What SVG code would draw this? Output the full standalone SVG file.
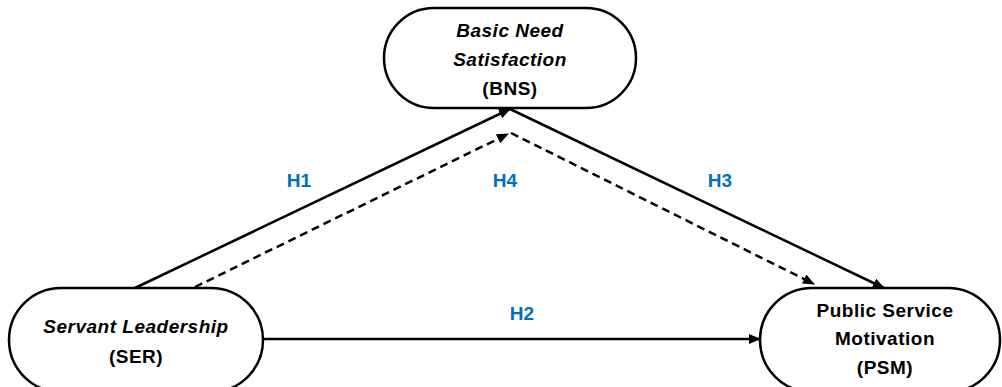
<svg xmlns="http://www.w3.org/2000/svg" width="1002" height="387" viewBox="0 0 1002 387">
<style>
.node{fill:#fff;stroke:#000;stroke-width:2.5}
.t{font-family:"Liberation Sans",Arial,sans-serif;font-weight:bold;font-size:19px;letter-spacing:0.5px;fill:#000;text-anchor:middle}
.i{font-style:italic}
.lbl{font-family:"Liberation Sans",Arial,sans-serif;font-weight:bold;font-size:19px;fill:#0070C0;text-anchor:middle}
.c{stroke:#000;stroke-width:2.5;fill:none}
.d{stroke-dasharray:8 5}
</style>
<defs>
<marker id="ah" markerUnits="userSpaceOnUse" markerWidth="12" markerHeight="10" refX="11" refY="5" orient="auto">
<path d="M0,0 L12,5 L0,10 Z" fill="#000"/>
</marker>
</defs>
<rect width="1002" height="387" fill="#fff"/>
<g id="connectors">
<line class="c" x1="135" y1="288" x2="510" y2="109" marker-end="url(#ah)"/>
<line class="c d" x1="195" y1="287" x2="508" y2="134" marker-end="url(#ah)"/>
<line class="c d" x1="511" y1="133" x2="814" y2="284" marker-end="url(#ah)"/>
<line class="c" x1="510" y1="109" x2="884" y2="288" marker-end="url(#ah)"/>
<line class="c" x1="263" y1="339" x2="760" y2="339" marker-end="url(#ah)"/>
</g>
<g id="labels">
<text class="lbl" x="299" y="187">H1</text>
<text class="lbl" x="505" y="187">H4</text>
<text class="lbl" x="720" y="187">H3</text>
<text class="lbl" x="522" y="320">H2</text>
</g>
<g id="BNS">
<rect class="node" x="384" y="8" width="252" height="100" rx="50"/>
<text class="t i" x="510" y="37">Basic Need</text>
<text class="t i" x="510" y="66">Satisfaction</text>
<text class="t" x="510" y="95">(BNS)</text>
</g>
<g id="SER">
<rect class="node" x="9" y="288" width="254" height="104" rx="52"/>
<text class="t i" x="136" y="333">Servant Leadership</text>
<text class="t" x="136" y="363">(SER)</text>
</g>
<g id="PSM">
<rect class="node" x="760" y="288" width="240" height="104" rx="52"/>
<text class="t" x="885" y="317">Public Service</text>
<text class="t" x="885" y="345">Motivation</text>
<text class="t" x="885" y="374">(PSM)</text>
</g>
</svg>
